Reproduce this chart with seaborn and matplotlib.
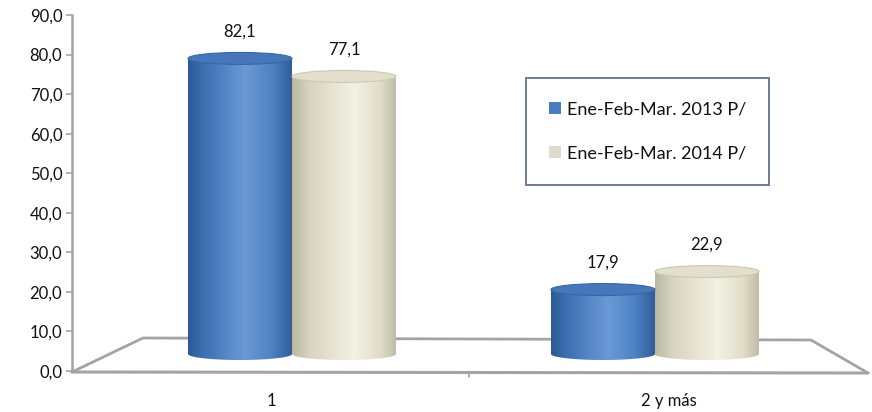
import numpy as np
import pandas as pd
import matplotlib
matplotlib.use("Agg")
import matplotlib.pyplot as plt
import seaborn as sns
from matplotlib.patches import Ellipse, Polygon, Patch
from matplotlib.colors import LinearSegmentedColormap

# ---------------- data ----------------
categories = ["1", "2 y más"]
series_names = ["Ene-Feb-Mar. 2013 P/", "Ene-Feb-Mar. 2014 P/"]
values_2013 = [82.1, 17.9]
values_2014 = [77.1, 22.9]
labels_2013 = ["82,1", "17,9"]
labels_2014 = ["77,1", "22,9"]
y_ticks = [0, 10, 20, 30, 40, 50, 60, 70, 80, 90]
y_tick_labels = ["0,0", "10,0", "20,0", "30,0", "40,0", "50,0", "60,0", "70,0", "80,0", "90,0"]

df = pd.DataFrame({
    "categoria": categories * 2,
    "serie": [series_names[0]] * len(categories) + [series_names[1]] * len(categories),
    "valor": values_2013 + values_2014,
    "etiqueta": labels_2013 + labels_2014,
})

# ---------------- style ----------------
sns.set_theme(style="white")
plt.rcParams["font.family"] = ["Lato", "DejaVu Sans"]
TXT = "#111111"
GRAY = "#a3a3a3"
BLUE = "#4a7cc0"
BEIGE = "#dedcc8"
FS = 12

W, H = 872, 412
fig = plt.figure(figsize=(W / 100, H / 100), dpi=100)
fig.patch.set_facecolor("white")


def fx(px):
    return px / W


def fy(py):
    return 1 - py / H


L, R, T, B = 72, 868, 15, 371
rect = [fx(L), fy(B), (R - L) / W, (B - T) / H]

# ---------------- front axis (value axis + floor) ----------------
axf = fig.add_axes(rect)
axf.set_facecolor("white")
axf.set_xlim(L, R)
axf.set_ylim(0, 90)
for s in ["top", "right", "bottom"]:
    axf.spines[s].set_visible(False)
axf.spines["left"].set_color(GRAY)
axf.spines["left"].set_linewidth(1.8)
axf.set_yticks(y_ticks)
axf.set_yticklabels(y_tick_labels)
axf.tick_params(axis="y", direction="out", length=4, width=1.2, color=GRAY,
                labelsize=FS, labelcolor=TXT, pad=3, left=True)


def pv(py):  # pixel row -> value on the front axis
    return (B - py) * 90 / (B - T)


floor_x = [L, 143, 811, R]
floor_y = [pv(372), pv(338), pv(340), pv(373)]
axf.plot(floor_x, floor_y, color=GRAY, lw=2.0, solid_joinstyle="miter", clip_on=False, zorder=1)
axf.plot([L, R], [pv(372), pv(373)], color=GRAY, lw=2.2, clip_on=False, zorder=1)
axf.plot([469, 469], [pv(372), pv(377)], color=GRAY, lw=1.2, clip_on=False)
axf.set_xticks([271, 669])
axf.set_xticklabels(categories)
axf.tick_params(axis="x", length=0, labelsize=FS, labelcolor=TXT, pad=16)
axf.set_xlabel("")
axf.set_ylabel("")

# ---------------- bar axis (cylinders) ----------------
axb = fig.add_axes(rect)
axb.patch.set_alpha(0)
base_px, scale_px = 354, 3.6
ylo, yhi = -(B - base_px) / scale_px, (base_px - T) / scale_px
c1, c2 = 292, 655
unit = c2 - c1
xlo, xhi = -(c1 - L) / unit, 1 + (R - c2) / unit

sns.barplot(data=df, x="categoria", y="valor", hue="serie", palette=[BLUE, BEIGE],
            saturation=1, width=0.573, gap=0, dodge=True, ax=axb, legend=False)

cmap_blue = LinearSegmentedColormap.from_list("b", [
    (0.0, "#2d5994"), (0.15, "#3d6fb1"), (0.55, "#6a99d6"), (0.8, "#5083c5"), (1.0, "#305d9a")])
cmap_beige = LinearSegmentedColormap.from_list("g", [
    (0.0, "#bbb8a2"), (0.18, "#d8d6c1"), (0.6, "#f3f1e2"), (0.85, "#e0dec9"), (1.0, "#bfbda8")])
styles = [(cmap_blue, "#4677bb", "#3a66a6"), (cmap_beige, "#e2e0cd", "#cbc9b4")]


def style_for(p):
    fc = np.array(p.get_facecolor()[:3])
    d = [np.abs(fc - np.array(matplotlib.colors.to_rgb(c))).sum() for c in (BLUE, BEIGE)]
    return styles[int(np.argmin(d))]


eh = 12 / scale_px
grad = np.linspace(0, 1, 256).reshape(1, -1)
bars = [p for p in axb.patches if p.get_height() > 0]
for p in bars:
    x0, w, h = p.get_x(), p.get_width(), p.get_height()
    cmap, fc, ec = style_for(p)
    p.set_alpha(0)
    xc = x0 + w / 2
    t = np.linspace(np.pi, 2 * np.pi, 60)
    pts = [(x0, h)] + [(xc + w / 2 * np.cos(a), eh / 2 * np.sin(a)) for a in t] + [(x0 + w, h)]
    clip = Polygon(pts, closed=True, transform=axb.transData, facecolor="none", edgecolor="none")
    axb.add_patch(clip)
    im = axb.imshow(grad, extent=[x0, x0 + w, -eh / 2, h], aspect="auto",
                    cmap=cmap, zorder=3, interpolation="bilinear")
    im.set_clip_path(clip)
    axb.add_patch(Ellipse((xc, h), w, eh, facecolor=fc, edgecolor=ec, lw=0.8, zorder=4))

for (p, lab) in zip(bars, [*labels_2013, *labels_2014]):
    axb.annotate(lab, (p.get_x() + p.get_width() / 2, p.get_height()), xytext=(0, 19.5),
                 textcoords="offset points", ha="center", va="center", fontsize=FS, color=TXT)

axb.set_xlim(xlo, xhi)
axb.set_ylim(ylo, yhi)
axb.axis("off")

handles = [Patch(facecolor=BLUE, edgecolor="none"), Patch(facecolor=BEIGE, edgecolor="none")]
leg = fig.legend(handles, series_names, loc="upper left", bbox_to_anchor=(fx(526), fy(78)),
                 frameon=True, fancybox=False, fontsize=13, handlelength=0.65, handleheight=0.65,
                 handletextpad=0.3, labelspacing=1.55, borderpad=1.3, borderaxespad=0)
leg.get_frame().set_edgecolor("#4a5a7c")
leg.get_frame().set_linewidth(1.4)
for txt in leg.get_texts():
    txt.set_color(TXT)

fig.savefig("out.png", dpi=100, facecolor="white")
